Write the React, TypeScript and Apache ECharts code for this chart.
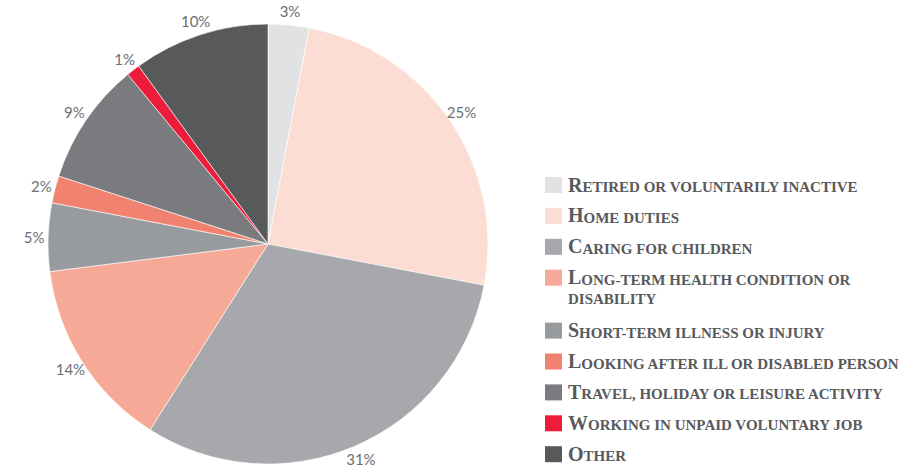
import React, { useEffect, useRef } from "react";
import * as echarts from "echarts";

const categories = [
  "Retired or voluntarily inactive",
  "Home duties",
  "Caring for children",
  "Long-term health condition or\ndisability",
  "Short-term illness or injury",
  "Looking after ill or disabled person",
  "Travel, holiday or leisure activity",
  "Working in unpaid voluntary job",
  "Other",
];
const values = [3, 25, 31, 14, 5, 2, 9, 1, 10];
const colors = [
  "#e1e2e4",
  "#fcddd3",
  "#a7a8ac",
  "#f6a996",
  "#989b9e",
  "#f28270",
  "#7a7b7e",
  "#ed1c3a",
  "#58595b",
];

const SERIF = "Liberation Serif";

function toSmallCaps(text: string): string {
  return text
    .split("\n")
    .map((line) => {
      let out = "";
      let cur = "";
      let curCls = "";
      for (const ch of line) {
        const cls = ch >= "A" && ch <= "Z" ? "c" : "s";
        if (cls !== curCls && cur) {
          out += `{${curCls}|${cur}}`;
          cur = "";
        }
        curCls = cls;
        cur += ch.toUpperCase();
      }
      if (cur) out += `{${curCls}|${cur}}`;
      return out;
    })
    .join("\n");
}

export default function App() {
  const ref = useRef<HTMLDivElement>(null);
  useEffect(() => {
    if (!ref.current) return;
    const chart = echarts.init(ref.current, undefined, { renderer: "svg" });
    const data = categories.map((name, i) => ({
      name,
      value: values[i],
      itemStyle: { color: colors[i] },
    }));
    const center = [268, 244];
    const R = 220;

    const legend = categories.map((name, i) => {
      const y = 185 + i * 30.9 + (i > 3 ? 22 : 0);
      return {
        type: "group",
        x: 545,
        y,
        children: [
          {
            type: "rect",
            shape: { x: 0, y: -8, width: 17, height: 16 },
            style: { fill: colors[i] },
          },
          {
            type: "text",
            x: 23,
            y: -13.5,
            style: {
              text: toSmallCaps(name),
              align: "left",
              verticalAlign: "top",
              fill: "#58595b",
              rich: {
                c: {
                  fontFamily: SERIF,
                  fontWeight: "bold",
                  fontSize: 20,
                  lineHeight: 23,
                  verticalAlign: "bottom",
                  fill: "#58595b",
                },
                s: {
                  fontFamily: SERIF,
                  fontWeight: "bold",
                  fontSize: 15,
                  lineHeight: 19.5,
                  verticalAlign: "bottom",
                  fill: "#58595b",
                },
              },
            },
          },
        ],
      };
    });

    chart.setOption({
      animation: false,
      backgroundColor: "#ffffff",
      graphic: legend,
      series: [
        {
          type: "pie",
          center,
          radius: R,
          startAngle: 90,
          clockwise: true,
          avoidLabelOverlap: false,
          silent: true,
          data,
          itemStyle: { borderColor: "#ffffff", borderWidth: 0.6 },
          label: { show: false },
          labelLine: { show: false },
        },
        {
          type: "pie",
          center,
          radius: [R + 1, R + 21],
          startAngle: 90,
          clockwise: true,
          avoidLabelOverlap: false,
          silent: true,
          data: categories.map((name, i) => ({ name, value: values[i] })),
          itemStyle: { color: "rgba(0,0,0,0)", borderWidth: 0 },
          label: {
            show: true,
            position: "inside",
            formatter: "{c}%",
            fontFamily: "Lato",
            fontSize: 15,
            color: "#6d6e71",
          },
          labelLine: { show: false },
        },
      ],
    });
    return () => chart.dispose();
  }, []);
  return (
    <div
      ref={ref}
      style={{ position: "absolute", left: 0, top: 0, width: 913, height: 468 }}
    />
  );
}
